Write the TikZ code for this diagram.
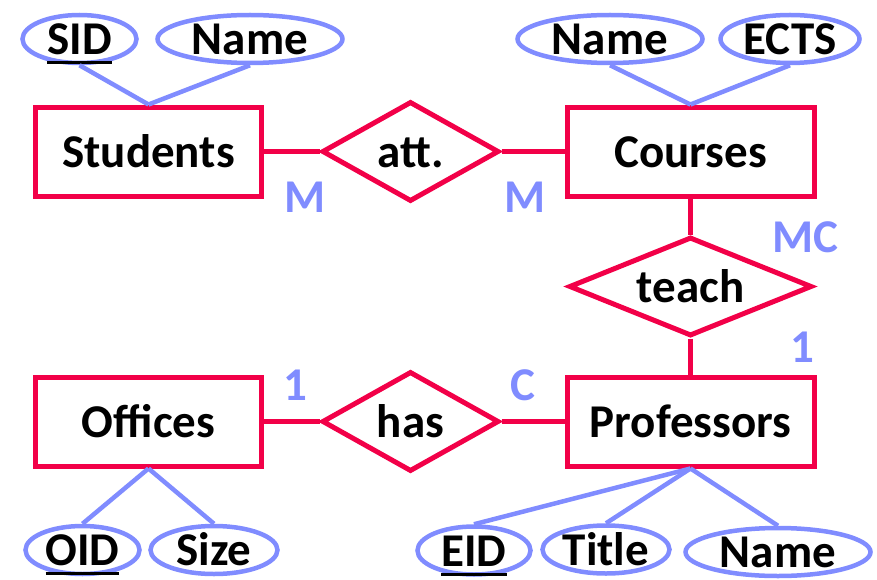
\documentclass[tikz,border=0pt]{standalone}
\usepackage{fontspec}
\setmainfont{Carlito}
\usetikzlibrary{matrix,shapes.geometric}

\definecolor{erred}{RGB}{242,0,72}
\definecolor{erblue}{RGB}{128,140,255}

% underlined key attribute, the rule takes no room
\newcommand\keyattr[1]{\setbox0\hbox{#1}\rlap{\raisebox{-9.5pt}[0pt][0pt]{\rule{\wd0}{3pt}}}\box0}

\tikzset{
  txt/.style={font=\fontsize{47}{50}\selectfont\bfseries, text height=31pt, text depth=0pt, inner sep=0pt},
  entity/.style={txt, draw=erred, line width=5pt, rectangle, minimum height=89pt},
  relation/.style={txt, draw=erred, line width=5pt, diamond, aspect=1.75, minimum width=177pt, minimum height=100pt},
  attr/.style={txt, draw=erblue, line width=4.5pt, ellipse, minimum height=48pt},
  card/.style={txt, text=erblue},
  rel line/.style={draw=erred, line width=5pt},
  attr line/.style={draw=erblue, line width=4.5pt},
}

\begin{document}
\begin{tikzpicture}[x=1pt, y=-1pt]
  \useasboundingbox (0,0) rectangle (877,580);
  \matrix (er) [matrix of nodes, row sep={135pt,between origins}, column sep={262pt,between origins},
                matrix anchor=er-2-3.center] at (690.5,286.5) {
    |[entity, minimum width=225pt]| Students & |[relation]| att. &[18pt] |[entity, minimum width=247pt]| Courses    \\
                                             &                   &[18pt] |[relation, aspect=2.46, minimum width=243pt, minimum height=99pt]| teach \\
    |[entity, minimum width=225pt]| Offices  & |[relation]| has  &[18pt] |[entity, minimum width=247pt]| Professors \\
  };
  % attributes
  \node[attr, minimum width=114pt] (sid)   at (79.5,39)  {\keyattr{SID}};
  \node[attr, minimum width=185pt] (sname) at (250,39)   {Name};
  \node[attr, minimum width=185pt] (cname) at (610,39)   {Name};
  \node[attr, minimum width=139pt] (ects)  at (790,39)   {ECTS};
  \node[attr, minimum width=114pt] (oid)   at (82.5,550) {\keyattr{OID}};
  \node[attr, minimum width=127pt] (size)  at (214,550)  {Size};
  \node[attr, minimum width=113pt] (eid)   at (474,550.5) {\keyattr{EID}};
  \node[attr, minimum width=127pt] (title) at (606,549.5) {Title};
  \node[attr, minimum width=185pt] (pname) at (778,552)  {Name};
  % cardinalities
  \node[card] (mstud)  at (305,197) {M};
  \node[card] (mcour)  at (525,197) {M};
  \node[card] (mcteach) at (805,237) {MC};
  \node[card] (oneprof) at (802,347) {1};
  \node[card] (oneoff) at (295,385) {1};
  \node[card] (cprof)  at (523,385) {C};
  \path[rel line]
    (er-1-1) edge (er-1-2)
    (er-1-2) edge (er-1-3)
    (er-1-3) edge (er-2-3)
    (er-2-3) edge (er-3-3)
    (er-3-1) edge (er-3-2)
    (er-3-2) edge (er-3-3);
  \path[attr line]
    (sid.south) edge (er-1-1.north)
    (sname.south) edge (er-1-1.north)
    (cname.south) edge (er-1-3.north)
    (ects.south) edge (er-1-3.north)
    % below the entities
    (er-3-1.south) edge (oid.north) edge (size.north)
    (er-3-3.south) edge (eid.north) edge (title.north) edge (pname.north);
\end{tikzpicture}
\end{document}
